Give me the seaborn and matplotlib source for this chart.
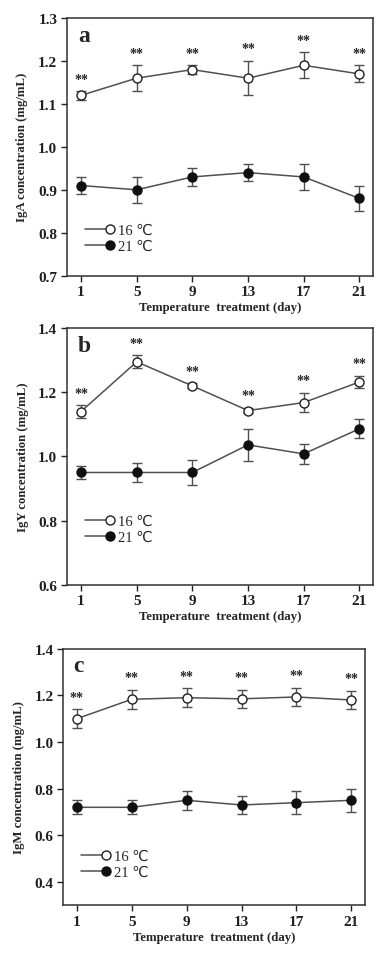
import matplotlib
matplotlib.use("Agg")
import matplotlib.pyplot as plt
import seaborn as sns
import pandas as pd
from matplotlib.legend_handler import HandlerLine2D

# ___ Data ___

days = [1, 5, 9, 13, 17, 21]
groups = ["16 ℃", "21 ℃"]

iga_16 = [1.12, 1.16, 1.18, 1.16, 1.19, 1.17]
iga_16_err = [0.01, 0.03, 0.01, 0.04, 0.03, 0.02]
iga_21 = [0.91, 0.90, 0.93, 0.94, 0.93, 0.88]
iga_21_err = [0.02, 0.03, 0.02, 0.02, 0.03, 0.03]

igy_16 = [1.14, 1.295, 1.22, 1.143, 1.168, 1.232]
igy_16_err = [0.02, 0.02, 0.008, 0.008, 0.03, 0.02]
igy_21 = [0.95, 0.95, 0.95, 1.036, 1.008, 1.086]
igy_21_err = [0.02, 0.03, 0.04, 0.05, 0.03, 0.03]

igm_16 = [1.10, 1.183, 1.19, 1.185, 1.193, 1.18]
igm_16_err = [0.04, 0.04, 0.04, 0.04, 0.04, 0.04]
igm_21 = [0.72, 0.72, 0.75, 0.73, 0.74, 0.75]
igm_21_err = [0.03, 0.03, 0.04, 0.04, 0.05, 0.05]

panels = [
    ("a", "IgA concentration (mg/mL)", iga_16, iga_16_err, iga_21, iga_21_err,
     (0.7, 1.3), [0.7, 0.8, 0.9, 1.0, 1.1, 1.2, 1.3], (0.04, 0.065)),
    ("b", "IgY concentration (mg/mL)", igy_16, igy_16_err, igy_21, igy_21_err,
     (0.6, 1.4), [0.6, 0.8, 1.0, 1.2, 1.4], (0.04, 0.135)),
    ("c", "IgM concentration (mg/mL)", igm_16, igm_16_err, igm_21, igm_21_err,
     (0.3, 1.4), [0.4, 0.6, 0.8, 1.0, 1.2, 1.4], (0.04, 0.08)),
]

# axes boxes in figure fractions [left, bottom, width, height]
boxes = [
    [0.172, 0.710, 0.785, 0.270],
    [0.172, 0.386, 0.785, 0.269],
    [0.162, 0.050, 0.774, 0.269],
]


# ___ Legend handle: line with the marker at its right end ___

class HandlerLineMarkerEnd(HandlerLine2D):
    def create_artists(self, legend, orig_handle, xdescent, ydescent, width, height, fontsize, trans):
        artists = super().create_artists(legend, orig_handle, xdescent, ydescent, width, height,
                                         fontsize, trans)
        for a in artists:
            n = len(a.get_xdata())
            if n > 1:
                a.set_markevery([n - 1])
        return artists


sns.set_theme(style="ticks")
plt.rcParams['font.family'] = ['Liberation Serif', 'DejaVu Sans']
plt.rcParams['axes.linewidth'] = 1.1
plt.rcParams['axes.edgecolor'] = '#303030'

fig = plt.figure(figsize=(3.9, 9.54), dpi=100)

line_col = '#505050'

for (letter, ylabel, y16, e16, y21, e21, ylim, yticks, leg_pos), box in zip(panels, boxes):
    ax = fig.add_axes(box)
    df = pd.DataFrame({
        "day": days * 2,
        "value": y16 + y21,
        "group": [groups[0]] * len(days) + [groups[1]] * len(days),
    })

    for y, e in ((y16, e16), (y21, e21)):
        ax.errorbar(days, y, yerr=e, fmt='none', ecolor=line_col, elinewidth=1.0,
                    capsize=3.5, capthick=1.0, zorder=2)

    sns.lineplot(data=df, x="day", y="value", hue="group", style="group",
                 palette=[line_col, line_col], markers=["o", "o"], dashes=False,
                 linewidth=1.1, markersize=6.5, ax=ax, zorder=3, legend=False)
    # open / filled markers
    lines = ax.get_lines()[-2:]
    lines[0].set_markerfacecolor('white')
    lines[0].set_markeredgecolor('#202020')
    lines[1].set_markerfacecolor('#101010')
    lines[1].set_markeredgecolor('#101010')
    for ln in lines:
        ln.set_markeredgewidth(1.0)

    ax.legend(lines, groups, loc='lower left', bbox_to_anchor=leg_pos,
              frameon=False, fontsize=10.5, handlelength=1.7, handletextpad=0.55,
              labelspacing=0.2, borderaxespad=0, numpoints=1,
              handler_map={ln: HandlerLineMarkerEnd(numpoints=1) for ln in lines})

    # significance marks
    for d, y, e in zip(days, y16, e16):
        ax.annotate("**", (d, y + e), xytext=(0, 4), textcoords='offset points',
                    ha='center', va='bottom', fontsize=10, fontweight='bold')

    ax.set_xlim(0, 22)
    ax.set_ylim(*ylim)
    ax.set_xticks(days)
    ax.set_yticks(yticks)
    ax.set_yticklabels([f"{t:.1f}" for t in yticks])
    ax.tick_params(axis='both', direction='out', length=4, width=1.0,
                   labelsize=11, colors='#202020', pad=3)
    for lab in ax.get_xticklabels() + ax.get_yticklabels():
        lab.set_fontweight('bold')
    ax.set_xlabel("Temperature  treatment (day)", fontsize=9.2, fontweight='bold', labelpad=2)
    ax.set_ylabel(ylabel, fontsize=9.2, fontweight='bold', labelpad=7)
    ax.text(0.035, 0.975, letter, transform=ax.transAxes, ha='left', va='top',
            fontsize=17, fontweight='bold')

fig.savefig("out.png", dpi=100)
